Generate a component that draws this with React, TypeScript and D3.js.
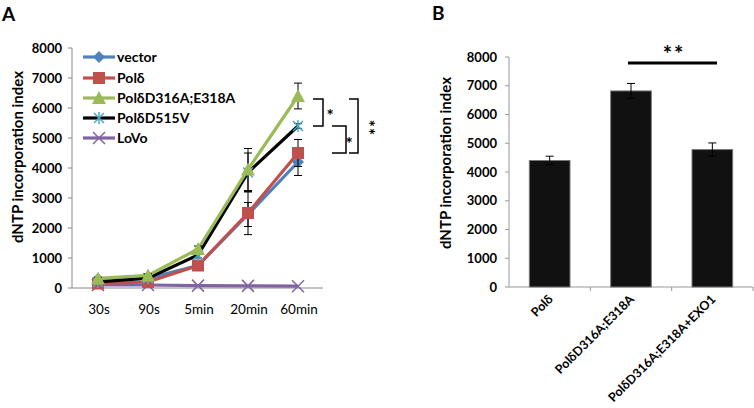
import React from "react";
import * as d3 from "d3";

const timepoints = ["30s", "90s", "5min", "20min", "60min"];
const seriesNames = ["vector", "Polδ", "PolδD316A;E318A", "PolδD515V", "LoVo"];
const vectorVals = [300, 320, 750, 2450, 4200];
const polVals = [150, 200, 750, 2500, 4500];
const exoVals = [320, 420, 1300, 3950, 6400];
const d515Vals = [200, 330, 1100, 3850, 5400];
const lovoVals = [100, 100, 80, 70, 60];
const vectorErr = [40, 40, 80, 400, 450];
const polErr = [30, 40, 80, 720, 450];
const exoErr = [40, 50, 100, 700, 430];
const d515Err = [30, 40, 100, 650, 80];
const lovoErr = [0, 0, 0, 0, 0];
const yTicksA = [0, 1000, 2000, 3000, 4000, 5000, 6000, 7000, 8000];

const barCats = ["Polδ", "PolδD316A;E318A", "PolδD316A;E318A+EXO1"];
const barVals = [4400, 6820, 4780];
const barErr = [150, 260, 230];
const yTicksB = [0, 1000, 2000, 3000, 4000, 5000, 6000, 7000, 8000];

const FONT = "Lato, 'DejaVu Sans', sans-serif";

function Marker({ kind, x, y, color }: { kind: string; x: number; y: number; color: string }) {
  if (kind === "diamond") {
    const s = 6;
    return <path d={`M${x},${y - s}L${x + s},${y}L${x},${y + s}L${x - s},${y}Z`} fill={color} />;
  }
  if (kind === "square") {
    return <rect x={x - 6} y={y - 6} width={12} height={12} fill={color} />;
  }
  if (kind === "triangle") {
    return <path d={`M${x},${y - 7}L${x + 7},${y + 6}L${x - 7},${y + 6}Z`} fill={color} />;
  }
  if (kind === "star") {
    const s = 5;
    return (
      <g stroke="#4BACC6" strokeWidth={1.5}>
        <line x1={x - s} y1={y - s} x2={x + s} y2={y + s} />
        <line x1={x - s} y1={y + s} x2={x + s} y2={y - s} />
        <line x1={x} y1={y - s - 1} x2={x} y2={y + s + 1} />
      </g>
    );
  }
  const s = 6;
  return (
    <g stroke={color} strokeWidth={1.5}>
      <line x1={x - s} y1={y - s} x2={x + s} y2={y + s} />
      <line x1={x - s} y1={y + s} x2={x + s} y2={y - s} />
    </g>
  );
}

export default function App() {
  const xA = d3.scaleBand().domain(timepoints).range([73, 323]);
  const yA = d3.scaleLinear().domain([0, 8000]).range([288, 48]);
  const series = [
    { name: seriesNames[0], vals: vectorVals, err: vectorErr, color: "#4F81BD", kind: "diamond" },
    { name: seriesNames[1], vals: polVals, err: polErr, color: "#C0504D", kind: "square" },
    { name: seriesNames[2], vals: exoVals, err: exoErr, color: "#9BBB59", kind: "triangle" },
    { name: seriesNames[3], vals: d515Vals, err: d515Err, color: "#000000", kind: "star" },
    { name: seriesNames[4], vals: lovoVals, err: lovoErr, color: "#8064A2", kind: "x" },
  ];
  const drawOrder = [4, 0, 1, 3, 2];
  const cx = (t: string) => (xA(t) as number) + xA.bandwidth() / 2;
  const line = d3.line<number>().x((_, i) => cx(timepoints[i])).y((v) => yA(v));

  const xB = d3.scaleBand().domain(barCats).range([509, 753]).paddingInner(0.5).paddingOuter(0.25);
  const yB = d3.scaleLinear().domain([0, 8000]).range([287, 57]);
  const bandB = d3.scaleBand().domain(barCats).range([509, 753]);

  const legendY = [57, 78, 98, 118, 138];

  return (
    <svg width={754} height={408} style={{ position: "absolute", left: 0, top: 0, background: "#fff" }} fontFamily={FONT}>
      {/* Panel A */}
      <text x={2} y={21} fontSize={19} fontWeight="bold">A</text>
      <text transform={`translate(23,157) rotate(-90)`} textAnchor="middle" fontSize={15} fontWeight="bold">
        dNTP incorporation index
      </text>
      <line x1={72} x2={72} y1={yA(8000)} y2={yA(0)} stroke="#888" />
      <line x1={72} x2={323} y1={yA(0)} y2={yA(0)} stroke="#888" />
      {yTicksA.map((t) => (
        <g key={t}>
          <line x1={68} x2={72} y1={yA(t)} y2={yA(t)} stroke="#888" />
          <text x={62} y={yA(t) + 4.5} textAnchor="end" fontSize={13} fontWeight="bold">{t}</text>
        </g>
      ))}
      {timepoints.map((t) => (
        <text key={t} x={cx(t) + 1} y={yA(0) + 26} textAnchor="middle" fontSize={13.5}>{t}</text>
      ))}
      {drawOrder.map((si) => {
        const s = series[si];
        return (
          <g key={s.name}>
            <path d={line(s.vals) || ""} fill="none" stroke={s.color} strokeWidth={3.2} />
            {s.vals.map((v, i) =>
              s.err[i] > 0 ? (
                <g key={i} stroke="#000" strokeWidth={1}>
                  <line x1={cx(timepoints[i])} x2={cx(timepoints[i])} y1={yA(v - s.err[i])} y2={yA(v + s.err[i])} />
                  <line x1={cx(timepoints[i]) - 4} x2={cx(timepoints[i]) + 4} y1={yA(v - s.err[i])} y2={yA(v - s.err[i])} />
                  <line x1={cx(timepoints[i]) - 4} x2={cx(timepoints[i]) + 4} y1={yA(v + s.err[i])} y2={yA(v + s.err[i])} />
                </g>
              ) : null
            )}
            {s.vals.map((v, i) => (
              <Marker key={"m" + i} kind={s.kind} x={cx(timepoints[i])} y={yA(v)} color={s.color} />
            ))}
          </g>
        );
      })}
      {/* Legend */}
      {series.map((s, i) => (
        <g key={"lg" + s.name}>
          <line x1={83} x2={115} y1={legendY[i]} y2={legendY[i]} stroke={s.color} strokeWidth={3.2} />
          <Marker kind={s.kind} x={99} y={legendY[i]} color={s.color} />
          <text x={117} y={legendY[i] + 5} fontSize={14} fontWeight="bold">{s.name}</text>
        </g>
      ))}
      {/* Significance brackets */}
      <g stroke="#000" strokeWidth={1.5} fill="none">
        <path d={`M313,${yA(6300)}H323V${yA(5400)}H313`} />
        <path d={`M332,${yA(5400)}H346V${yA(4500)}H332`} />
        <path d={`M349,${yA(6300)}H358V${yA(4500)}H349`} />
      </g>
      <text x={330} y={122} textAnchor="middle" fontSize={17} fontWeight="bold" fill="#000">*</text>
      <text x={349} y={150} textAnchor="middle" fontSize={17} fontWeight="bold" fill="#000">*</text>
      <text transform="translate(362,128) rotate(90)" textAnchor="middle" fontSize={17} fontWeight="bold" fill="#000" letterSpacing={1}>**</text>

      {/* Panel B */}
      <text x={432} y={20} fontSize={19} fontWeight="bold">B</text>
      <text transform={`translate(451,163) rotate(-90)`} textAnchor="middle" fontSize={15} fontWeight="bold">
        dNTP incorporation index
      </text>
      <line x1={509} x2={509} y1={yB(8000)} y2={yB(0)} stroke="#999" />
      <line x1={509} x2={753} y1={yB(0)} y2={yB(0)} stroke="#999" />
      {yTicksB.map((t) => (
        <g key={"b" + t}>
          <line x1={505} x2={509} y1={yB(t)} y2={yB(t)} stroke="#999" />
          <text x={497} y={yB(t) + 4.5} textAnchor="end" fontSize={13} fontWeight="bold">{t}</text>
        </g>
      ))}
      {barCats.map((c) => (
        <line key={"tk" + c} x1={(bandB(c) as number) + bandB.bandwidth()} x2={(bandB(c) as number) + bandB.bandwidth()} y1={yB(0)} y2={yB(0) + 4} stroke="#999" />
      ))}
      {barCats.map((c, i) => {
        const x = xB(c) as number;
        const w = xB.bandwidth();
        const m = x + w / 2;
        return (
          <g key={"bar" + c}>
            <rect x={x} y={yB(barVals[i])} width={w} height={yB(0) - yB(barVals[i])} fill="#111" stroke="#777" strokeWidth={1} />
            <g stroke="#000" strokeWidth={1}>
              <line x1={m} x2={m} y1={yB(barVals[i] - barErr[i])} y2={yB(barVals[i] + barErr[i])} />
              <line x1={m - 4} x2={m + 4} y1={yB(barVals[i] + barErr[i])} y2={yB(barVals[i] + barErr[i])} />
              <line x1={m - 4} x2={m + 4} y1={yB(barVals[i] - barErr[i])} y2={yB(barVals[i] - barErr[i])} />
            </g>
            <text transform={`translate(${m + 4},${yB(0) + 13}) rotate(-45)`} textAnchor="end" fontSize={12.5} fontWeight="bold">{c}</text>
          </g>
        );
      })}
      <line x1={628} x2={717} y1={63} y2={63} stroke="#000" strokeWidth={3} />
      <text x={674} y={62} textAnchor="middle" fontSize={22} fontWeight="bold" letterSpacing={2}>**</text>
    </svg>
  );
}
